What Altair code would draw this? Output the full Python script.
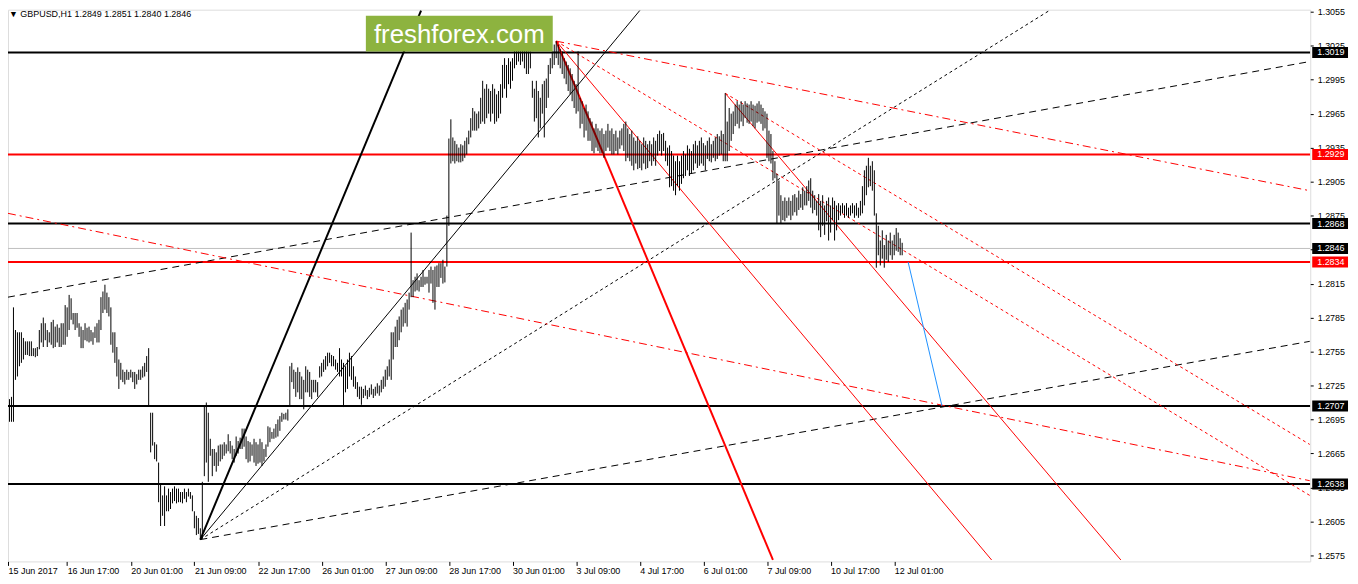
import altair as alt
import pandas as pd

# ---------------- bar data (hourly highs / lows, 4th-decimal pips: price = 1 + v/10000)
H = [
2750,2730,2722,2713,2715,2794,2774,2772,2772,2772,
2767,2764,2764,2764,2764,2758,2758,2759,2774,2780,
2785,2780,2774,2772,2781,2783,2777,2779,2776,2780,
2780,2796,2794,2805,2802,2789,2789,2789,2780,2777,
2774,2780,2776,2777,2774,2772,2777,2780,2783,2803,
2808,2814,2807,2803,2794,2772,2772,2759,2748,2745,
2739,2737,2739,2737,2739,2737,2737,2735,2739,2739,
2742,2745,2751,2758,2701,2701,2675,2673,2657,2638,
2628,2636,2628,2634,2631,2634,2636,2634,2634,2631,
2631,2634,2631,2634,2631,2628,2614,2610,2608,2599,
2640,2707,2710,2701,2678,2669,2669,2666,2672,2673,
2673,2675,2673,2682,2676,2672,2669,2680,2676,2679,
2687,2687,2680,2676,2675,2673,2678,2675,2673,2678,
2675,2669,2673,2689,2688,2684,2687,2691,2695,2698,
2701,2700,2701,2704,2742,2745,2739,2737,2741,2737,
2733,2730,2742,2739,2737,2730,2730,2730,2728,2742,
2745,2748,2751,2754,2754,2752,2751,2748,2745,2758,
2748,2745,2742,2748,2754,2751,2742,2733,2728,2724,
2724,2722,2725,2721,2723,2726,2722,2724,2727,2725,
2730,2733,2739,2742,2748,2772,2772,2777,2783,2786,
2792,2794,2798,2801,2807,2860,2818,2821,2824,2818,
2821,2827,2821,2821,2827,2830,2827,2830,2831,2833,
2833,2836,2830,2875,2943,2960,2944,2941,2938,2935,
2938,2937,2941,2944,2950,2961,2970,2967,2965,2967,
2979,2994,2987,2991,2987,2985,2991,2987,2982,2985,
2991,3008,3014,3008,3014,3011,3014,3022,3026,3022,
3022,3022,3022,3022,3020,3020,2994,2987,2994,2985,
2979,2991,2994,2996,3008,3014,3020,3026,3029,3026,
3022,3020,3014,3011,3008,3005,3000,2994,2991,3020,
2979,2976,2970,2973,2967,2961,2958,2952,2956,2952,
2950,2952,2947,2950,2956,2950,2952,2947,2950,2944,
2950,2952,2956,2958,2952,2947,2950,2944,2941,2945,
2941,2938,2944,2941,2938,2941,2938,2944,2941,2947,
2950,2947,2948,2941,2935,2937,2932,2928,2923,2928,
2923,2928,2932,2929,2937,2934,2932,2938,2941,2937,
2941,2944,2939,2937,2941,2944,2938,2941,2944,2947,
2945,2950,2947,2983,2958,2970,2965,2967,2973,2976,
2973,2976,2973,2976,2974,2973,2976,2973,2972,2974,
2976,2973,2970,2967,2965,2950,2947,2932,2923,2912,
2906,2893,2888,2891,2888,2891,2888,2893,2894,2891,
2897,2894,2900,2897,2901,2906,2908,2897,2893,2888,
2894,2888,2893,2884,2888,2891,2884,2891,2888,2884,
2886,2884,2886,2884,2886,2882,2884,2886,2884,2886,
2882,2888,2901,2915,2919,2926,2919,2923,2915,2877,
2866,2853,2862,2849,2858,2853,2860,2853,2858,2864,
2860,2855,2851]
L = [
2729,2722,2689,2693,2693,2693,2730,2733,2742,2745,
2748,2752,2752,2751,2751,2751,2750,2751,2757,2763,
2759,2765,2759,2763,2761,2758,2759,2763,2759,2759,
2761,2761,2768,2774,2783,2779,2774,2776,2768,2758,
2758,2765,2764,2763,2764,2761,2767,2763,2763,2774,
2789,2792,2789,2786,2761,2754,2745,2733,2722,2730,
2728,2726,2730,2730,2732,2728,2722,2726,2730,2730,
2732,2733,2737,2707,2666,2672,2660,2658,2622,2601,
2610,2601,2614,2614,2616,2621,2623,2621,2622,2622,
2621,2625,2622,2627,2625,2614,2599,2593,2594,2589,
2590,2645,2657,2640,2663,2645,2654,2649,2654,2658,
2660,2663,2665,2667,2665,2660,2657,2663,2665,2669,
2669,2671,2660,2657,2658,2663,2657,2654,2656,2657,
2654,2658,2662,2671,2675,2678,2678,2679,2680,2685,
2693,2695,2695,2694,2707,2728,2722,2715,2719,2713,
2713,2704,2719,2719,2715,2713,2719,2719,2715,2732,
2733,2737,2739,2742,2745,2742,2742,2739,2737,2733,
2733,2706,2719,2722,2733,2730,2724,2722,2715,2713,
2708,2714,2716,2713,2715,2717,2714,2716,2718,2716,
2719,2722,2724,2730,2733,2730,2748,2759,2759,2765,
2772,2777,2780,2777,2792,2803,2803,2808,2809,2808,
2812,2812,2814,2815,2807,2815,2798,2792,2812,2812,
2820,2815,2816,2830,2866,2921,2923,2921,2923,2922,
2922,2923,2926,2929,2938,2944,2950,2950,2950,2952,
2956,2958,2956,2961,2965,2958,2965,2956,2958,2961,
2965,2979,2987,2979,2991,2987,2994,3005,3008,3011,
3008,3011,3005,3000,3000,3005,2979,2958,2961,2944,
2952,2965,2944,2970,2979,3000,3005,3008,3014,3008,
3005,3000,2996,2991,2985,2982,2976,2970,2965,2967,
2952,2956,2944,2950,2941,2941,2932,2930,2935,2932,
2930,2930,2926,2932,2935,2932,2929,2929,2932,2929,
2934,2937,2932,2923,2926,2923,2919,2915,2921,2916,
2917,2915,2921,2916,2917,2923,2919,2923,2919,2928,
2932,2928,2932,2923,2919,2900,2901,2897,2893,2901,
2897,2903,2908,2910,2915,2910,2912,2915,2921,2917,
2919,2921,2919,2915,2925,2923,2922,2926,2923,2925,
2928,2929,2923,2923,2923,2932,2941,2947,2954,2956,
2952,2958,2954,2961,2957,2956,2958,2954,2952,2957,
2958,2956,2950,2952,2926,2923,2921,2906,2908,2868,
2875,2868,2871,2870,2873,2875,2871,2875,2878,2875,
2880,2882,2880,2884,2884,2888,2882,2877,2880,2875,
2862,2856,2866,2858,2870,2853,2860,2871,2853,2862,
2871,2875,2877,2873,2875,2873,2875,2877,2873,2875,
2873,2875,2877,2884,2893,2900,2901,2897,2875,2829,
2840,2831,2837,2829,2836,2834,2840,2836,2840,2844,
2843,2840,2840]
assert len(H) == len(L)

# ---------------- axes
X_TICK_BARS = [2.25, 32, 64, 96, 128, 160, 192, 224, 256, 288, 320, 352, 384, 416, 448]
X_TICK_LABELS = ["15 Jun 2017", "16 Jun 17:00", "20 Jun 01:00", "21 Jun 09:00", "22 Jun 17:00",
                 "26 Jun 01:00", "27 Jun 09:00", "28 Jun 17:00", "30 Jun 01:00", "3 Jul 09:00",
                 "4 Jul 17:00", "6 Jul 01:00", "7 Jul 09:00", "10 Jul 17:00", "12 Jul 01:00"]
Y_TICKS = [1.3055, 1.3025, 1.2995, 1.2965, 1.2935, 1.2905, 1.2875, 1.2845, 1.2815, 1.2785,
           1.2755, 1.2725, 1.2695, 1.2665, 1.2635, 1.2605, 1.2575]

# ---------------- horizontal levels
LEVEL_PRICES = [1.3019, 1.2929, 1.2868, 1.2834, 1.2707, 1.2638]
LEVEL_COLORS = ["#000000", "#FF0000", "#000000", "#FF0000", "#000000", "#000000"]
BID_PRICE = 1.2846

# ---------------- price tags on the right scale
TAG_PRICES = [1.3019, 1.2929, 1.2868, 1.2846, 1.2834, 1.2707, 1.2638]
TAG_COLORS = ["#000000", "#FF0000", "#000000", "#000000", "#FF0000", "#000000", "#000000"]

# ---------------- trend lines (bar index / price end points)
LINE_I1 = [99, 99, 99, 99, 2.25, 278, 278, 363, 278, 363, 278, 2.25, 455]
LINE_P1 = [1.2589, 1.2589, 1.2589, 1.2589, 1.2803, 1.3029, 1.3029, 1.2983, 1.3029, 1.2983, 1.3029, 1.2877, 1.2834]
LINE_I2 = [210, 320, 526, 657, 657, 387, 497, 562, 657, 657, 657, 657, 472]
LINE_P2 = [1.3056, 1.3056, 1.3056, 1.2764, 1.3011, 1.2571, 1.2571, 1.2571, 1.2897, 1.2673, 1.2628, 1.2641, 1.2707]
LINE_STYLE = ["thick_black", "thin_black", "dot_black", "dash_black", "dash_black", "thick_red",
              "thin_red", "thin_red", "dashdot_red", "dot_red", "dot_red", "dashdot_red", "blue"]

STYLES = {
    "thick_black": dict(color="#000000", strokeWidth=2),
    "thin_black": dict(color="#000000", strokeWidth=1),
    "dot_black": dict(color="#000000", strokeWidth=1, strokeDash=[3, 3]),
    "dash_black": dict(color="#000000", strokeWidth=1, strokeDash=[7, 5]),
    "thick_red": dict(color="#FF0000", strokeWidth=2),
    "thin_red": dict(color="#FF0000", strokeWidth=1),
    "dashdot_red": dict(color="#FF0000", strokeWidth=1, strokeDash=[8, 4, 2, 4]),
    "dot_red": dict(color="#FF0000", strokeWidth=1, strokeDash=[3, 3]),
    "blue": dict(color="#1E90FF", strokeWidth=1),
}

FONT = "Liberation Sans"

bars = pd.DataFrame({"i": list(range(len(H))),
                     "hi": [1 + v / 10000 for v in H],
                     "lo": [1 + v / 10000 for v in L]})
levels = pd.DataFrame({"p": LEVEL_PRICES, "c": LEVEL_COLORS})
tags = pd.DataFrame({"p": TAG_PRICES, "c": TAG_COLORS, "lab": [f"{p:.4f}" for p in TAG_PRICES]})
lines = pd.DataFrame({"i": LINE_I1, "p": LINE_P1, "i2": LINE_I2, "p2": LINE_P2, "s": LINE_STYLE})

xs = alt.Scale(domain=[2.25, 657.25], nice=False, zero=False)
ys = alt.Scale(domain=[1.256974, 1.305676], nice=False, zero=False)

label_arr = "[" + ",".join(f"'{t}'" for t in X_TICK_LABELS) + "]"
xaxis = alt.Axis(values=X_TICK_BARS, labelExpr=f"{label_arr}[round(datum.value/32)]",
                 orient="bottom", title=None, grid=False, domain=False, tickSize=4,
                 tickColor="black", labelAlign="left", labelPadding=1, labelFont=FONT,
                 labelFontSize=9, labelColor="black", labelFlush=False, labelOverlap=False)
yaxis = alt.Axis(values=Y_TICKS, format=".4f", orient="right", title=None, grid=False,
                 domain=False, tickSize=3, tickColor="black", labelAlign="left",
                 labelPadding=4, labelFont=FONT, labelFontSize=9, labelColor="black",
                 labelOverlap=False, labelFlush=False)

X = alt.X("i:Q", scale=xs, axis=xaxis)
Y = alt.Y("p:Q", scale=ys, axis=yaxis)

layers = []

# horizontal levels
layers.append(alt.Chart(levels).mark_rule(strokeWidth=2, clip=True).encode(
    y=Y, color=alt.Color("c:N", scale=None)))
layers.append(alt.Chart(pd.DataFrame({"p": [BID_PRICE]})).mark_rule(
    strokeWidth=1, color="#C0C0C0", clip=True).encode(y=Y))

# trend lines
for name, st in STYLES.items():
    sub = lines[lines["s"] == name]
    if len(sub) == 0:
        continue
    layers.append(alt.Chart(sub).mark_rule(clip=True, **st).encode(
        x=X, y=Y, x2="i2:Q", y2="p2:Q"))

# price bars
layers.append(alt.Chart(bars).mark_rule(color="black", strokeWidth=1, clip=True).encode(
    x=X, y=alt.Y("lo:Q", scale=ys, axis=yaxis), y2="hi:Q"))

# watermark
wm = pd.DataFrame({"t": ["freshforex.com"]})
layers.append(alt.Chart(wm).mark_rect(color="#8DB33F").encode(
    x=alt.value(360), x2=alt.value(548), y=alt.value(6), y2=alt.value(42)))
layers.append(alt.Chart(wm).mark_text(color="white", fontSize=26, font=FONT,
                                      align="center", baseline="middle").encode(
    x=alt.value(454), y=alt.value(25), text="t:N"))

# symbol caption
cap = pd.DataFrame({"t": ["\u25BC GBPUSD,H1  1.2849 1.2851 1.2840 1.2846"]})
layers.append(alt.Chart(cap).mark_text(color="black", fontSize=9, font=FONT,
                                       align="left", baseline="top").encode(
    x=alt.value(1), y=alt.value(0), text="t:N"))

# price tags
layers.append(alt.Chart(tags).mark_tick(orient="horizontal", thickness=11, size=36,
                                        opacity=1).encode(
    x=alt.value(1330), y=Y, color=alt.Color("c:N", scale=None)))
layers.append(alt.Chart(tags).mark_text(color="white", fontSize=9, font=FONT,
                                        align="left", baseline="middle").encode(
    x=alt.value(1317), y=Y, text="lab:N"))

chart = alt.layer(*layers).properties(
    width=1310, height=555,
    autosize=alt.AutoSizeParams(type="none"),
    padding={"left": 0, "top": 0, "right": 40, "bottom": 20},
).configure_view(stroke="black", strokeWidth=1).configure(background="white")

chart.save("out.html", embed_options={"renderer": "svg", "actions": False})
